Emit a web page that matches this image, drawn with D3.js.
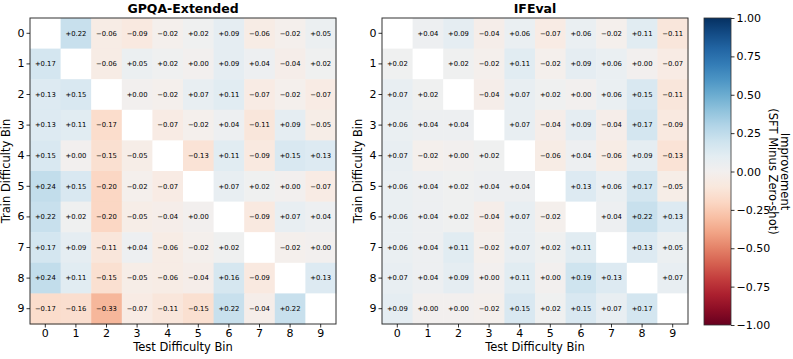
<!DOCTYPE html>
<html>
<head>
<meta charset="utf-8">
<script src="https://cdn.jsdelivr.net/npm/d3@7"></script>
<style>
  body { margin: 0; background: #fff; }
  svg { font-family: "DejaVu Sans", sans-serif; }
</style>
</head>
<body>
<svg id="chart" width="793" height="359"></svg>
<script>
'use strict';

// Bins used on both axes
var bins = [0, 1, 2, 3, 4, 5, 6, 7, 8, 9];

// Improvement (SFT minus zero-shot), rows = train bin, cols = test bin
var gpqaValues = [
  [null, 0.22, -0.06, -0.09, -0.02, 0.02, 0.09, -0.06, -0.02, 0.05],
  [0.17, null, -0.06, 0.05, 0.02, 0.00, 0.09, 0.04, -0.04, 0.02],
  [0.13, 0.15, null, 0.00, -0.02, 0.07, 0.11, -0.07, -0.02, -0.07],
  [0.13, 0.11, -0.17, null, -0.07, -0.02, 0.04, -0.11, 0.09, -0.05],
  [0.15, 0.00, -0.15, -0.05, null, -0.13, 0.11, -0.09, 0.15, 0.13],
  [0.24, 0.15, -0.20, -0.02, -0.07, null, 0.07, 0.02, 0.00, -0.07],
  [0.22, 0.02, -0.20, -0.05, -0.04, 0.00, null, -0.09, 0.07, 0.04],
  [0.17, 0.09, -0.11, 0.04, -0.06, -0.02, 0.02, null, -0.02, 0.00],
  [0.24, 0.11, -0.15, -0.05, -0.06, -0.04, 0.16, -0.09, null, 0.13],
  [-0.17, -0.16, -0.33, -0.07, -0.11, -0.15, 0.22, -0.04, 0.22, null]
];

var ifevalValues = [
  [null, 0.04, 0.09, -0.04, 0.06, -0.07, 0.06, -0.02, 0.11, -0.11],
  [0.02, null, 0.02, -0.02, 0.11, -0.02, 0.09, 0.06, 0.00, -0.07],
  [0.07, 0.02, null, -0.04, 0.07, 0.02, 0.00, 0.06, 0.15, -0.11],
  [0.06, 0.04, 0.04, null, 0.07, -0.04, 0.09, -0.04, 0.17, -0.09],
  [0.07, -0.02, 0.00, 0.02, null, -0.06, 0.04, -0.06, 0.09, -0.13],
  [0.06, 0.04, 0.02, 0.04, 0.04, null, 0.13, 0.06, 0.17, -0.05],
  [0.06, 0.04, 0.02, -0.04, 0.07, -0.02, null, 0.04, 0.22, 0.13],
  [0.06, 0.04, 0.11, -0.02, 0.07, 0.02, 0.11, null, 0.13, 0.05],
  [0.07, 0.04, 0.09, 0.00, 0.11, 0.00, 0.19, 0.13, null, 0.07],
  [0.09, 0.00, 0.00, -0.02, 0.15, 0.02, 0.15, 0.07, 0.17, null]
];

var panelTitles = ["GPQA-Extended", "IFEval"];
var colorTicks = [1.00, 0.75, 0.50, 0.25, 0.00, -0.25, -0.50, -0.75, -1.00];

var svg = d3.select("#chart");
var color = function (v) { return d3.interpolateRdBu((v + 1) / 2); };
var fmtCell = d3.format("+.2f");
var fmtTick = function (v) { return d3.format(".2f")(v).replace("-", "\u2212"); };

var plotTop = 18, size = 306;

function drawPanel(values, title, left) {
  var x = d3.scaleBand().domain(bins).range([left, left + size]);
  var y = d3.scaleBand().domain(bins).range([plotTop, plotTop + size]);
  var g = svg.append("g");

  var cells = [];
  values.forEach(function (row, r) {
    row.forEach(function (v, c) { cells.push({r: r, c: c, v: v}); });
  });

  g.selectAll("rect.cell")
    .data(cells)
    .enter().append("rect")
    .attr("class", "cell")
    .attr("x", function (d) { return x(d.c); })
    .attr("y", function (d) { return y(d.r); })
    .attr("width", x.bandwidth() + 0.5)
    .attr("height", y.bandwidth() + 0.5)
    .attr("fill", function (d) { return d.v === null ? "#fff" : color(d.v); });

  g.selectAll("text.cell")
    .data(cells.filter(function (d) { return d.v !== null; }))
    .enter().append("text")
    .attr("x", function (d) { return x(d.c) + x.bandwidth() / 2; })
    .attr("y", function (d) { return y(d.r) + y.bandwidth() / 2; })
    .attr("dy", "0.35em")
    .attr("text-anchor", "middle")
    .attr("font-size", "6.8px")
    .attr("fill", "#000")
    .text(function (d) { return fmtCell(d.v); });

  g.append("rect")
    .attr("x", left).attr("y", plotTop)
    .attr("width", size).attr("height", size)
    .attr("fill", "none").attr("stroke", "#333").attr("stroke-width", 1);

  var xAxis = g.append("g")
    .attr("transform", "translate(0," + (plotTop + size) + ")")
    .call(d3.axisBottom(x).tickSize(3.5).tickPadding(2));
  var yAxis = g.append("g")
    .attr("transform", "translate(" + left + ",0)")
    .call(d3.axisLeft(y).tickSize(3.5).tickPadding(2));
  [xAxis, yAxis].forEach(function (a) {
    a.select(".domain").remove();
    a.selectAll("text").attr("font-size", "11px").attr("fill", "#000")
      .attr("font-family", "DejaVu Sans, sans-serif");
    a.selectAll("line").attr("stroke", "#000").attr("stroke-width", 0.8);
  });

  g.append("text")
    .attr("x", left + size / 2).attr("y", 13)
    .attr("text-anchor", "middle")
    .attr("font-size", "12.5px").attr("font-weight", "bold")
    .text(title);

  g.append("text")
    .attr("x", left + size / 2).attr("y", 351)
    .attr("text-anchor", "middle")
    .attr("font-size", "11.5px")
    .text("Test Difficulty Bin");

  g.append("text")
    .attr("transform", "translate(" + (left - 20) + "," + (plotTop + size / 2) + ") rotate(-90)")
    .attr("text-anchor", "middle")
    .attr("font-size", "11.5px")
    .text("Train Difficulty Bin");
}

drawPanel(gpqaValues, panelTitles[0], 30);
drawPanel(ifevalValues, panelTitles[1], 382);

// Colorbar
var cbLeft = 704, cbWidth = 27, cbTop = 18, cbHeight = 307;
var cbScale = d3.scaleLinear().domain([1, -1]).range([cbTop, cbTop + cbHeight]);
var defs = svg.append("defs");
var grad = defs.append("linearGradient")
  .attr("id", "cbgrad").attr("x1", 0).attr("y1", 1).attr("x2", 0).attr("y2", 0);
d3.range(0, 1.0001, 0.05).forEach(function (t) {
  grad.append("stop").attr("offset", t).attr("stop-color", d3.interpolateRdBu(t));
});
svg.append("rect")
  .attr("x", cbLeft).attr("y", cbTop)
  .attr("width", cbWidth).attr("height", cbHeight)
  .attr("fill", "url(#cbgrad)")
  .attr("stroke", "#333").attr("stroke-width", 0.8);

var cbAxis = svg.append("g")
  .attr("transform", "translate(" + (cbLeft + cbWidth) + ",0)")
  .call(d3.axisRight(cbScale).tickValues(colorTicks).tickFormat(fmtTick).tickSize(3.5).tickPadding(2));
cbAxis.select(".domain").remove();
cbAxis.selectAll("text").attr("font-size", "11px").attr("fill", "#000")
  .attr("font-family", "DejaVu Sans, sans-serif");
cbAxis.selectAll("line").attr("stroke", "#000").attr("stroke-width", 0.8);

// two-line label, rotated to read top-to-bottom
var cbLabel = svg.append("text")
  .attr("transform", "translate(781," + (cbTop + cbHeight / 2) + ") rotate(90)")
  .attr("text-anchor", "middle")
  .attr("font-size", "11.5px");
cbLabel.append("tspan").attr("x", 0).attr("dy", 0).text("Improvement");
cbLabel.append("tspan").attr("x", 0).attr("dy", 12.5).text("(SFT Minus Zero-shot)");
</script>
</body>
</html>
